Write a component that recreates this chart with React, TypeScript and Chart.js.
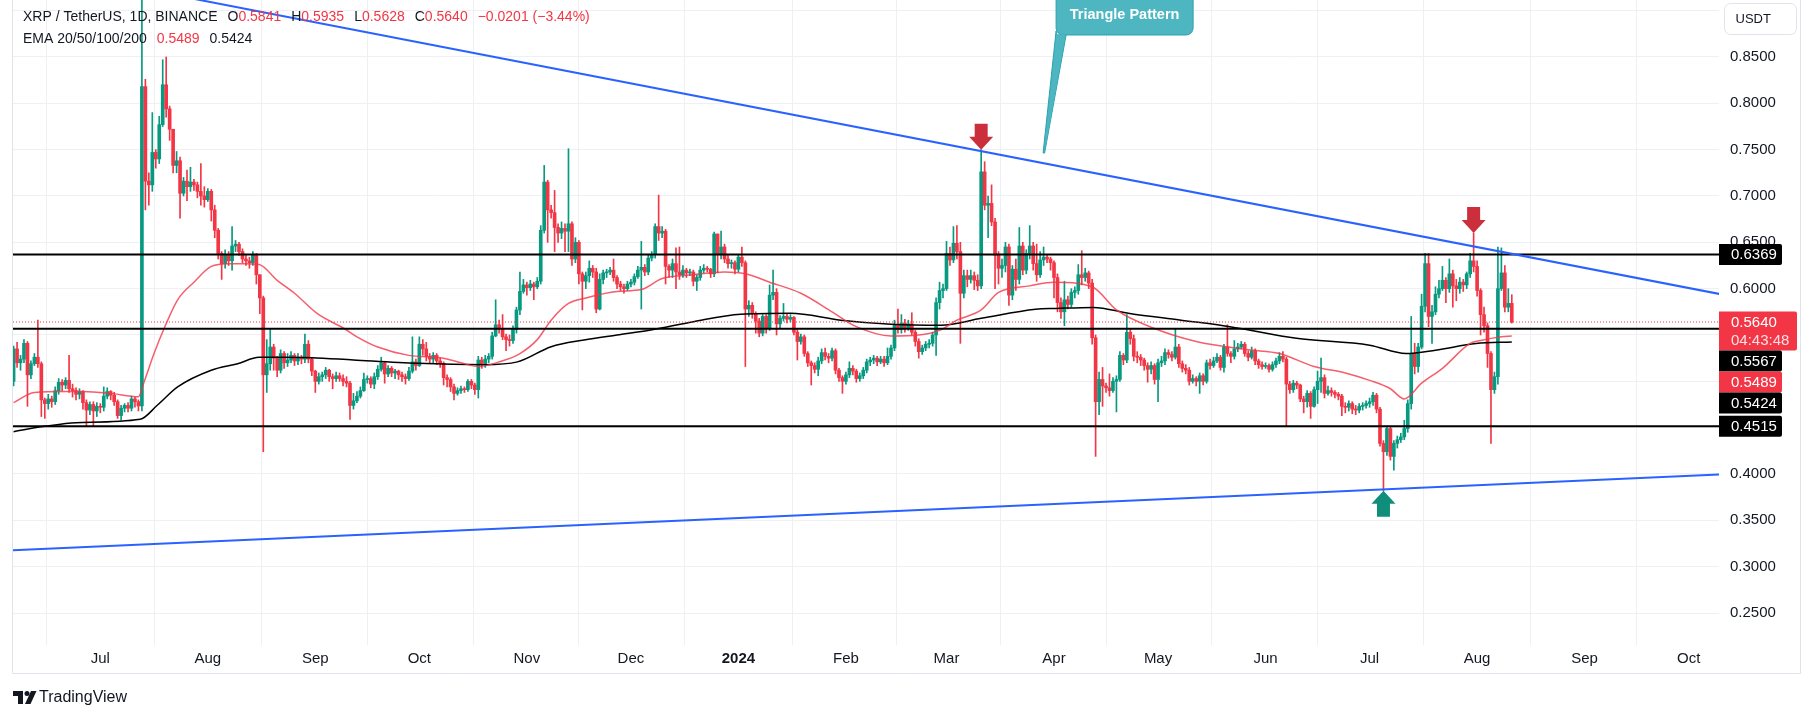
import React, { useEffect, useRef } from "react";
import { Chart, registerables } from "chart.js";

Chart.register(...registerables);

type Candle = [number, number, number]; // [close, high, low]; open = previous close

const FONT = "'Liberation Sans', Arial, sans-serif";
const UP = "#089981";
const DOWN = "#F23645";
const TEXT = "#131722";

const firstDay = -25; // days from 2023-07-01
const firstOpen = 0.5;

const jun2023: Candle[] = [
  [0.535,0.538,0.495],[0.520,0.542,0.515],[0.524,0.528,0.512],[0.541,0.545,0.520],[0.507,0.543,0.473],
  [0.519,0.522,0.503],[0.526,0.530,0.517],[0.519,0.566,0.515],[0.480,0.521,0.462],[0.476,0.482,0.460],
  [0.481,0.486,0.470],[0.478,0.484,0.472],[0.490,0.494,0.475],[0.499,0.503,0.486],[0.496,0.502,0.490],
  [0.501,0.504,0.492],[0.492,0.528,0.488],[0.490,0.497,0.483],[0.486,0.493,0.480],[0.489,0.492,0.481],
  [0.477,0.490,0.470],[0.469,0.480,0.452],[0.475,0.478,0.464],[0.468,0.478,0.452],[0.473,0.477,0.462],
];
const jul2023: Candle[] = [
  [0.472,0.476,0.466],[0.484,0.494,0.468],[0.489,0.493,0.481],[0.485,0.490,0.480],[0.478,0.488,0.474],
  [0.463,0.480,0.460],[0.471,0.474,0.458],[0.474,0.476,0.467],[0.471,0.477,0.467],[0.481,0.484,0.468],
  [0.478,0.483,0.472],[0.4735,0.480,0.468],[0.818,0.938,0.468],[0.716,0.826,0.685],[0.712,0.725,0.690],
  [0.747,0.790,0.705],[0.740,0.750,0.730],[0.777,0.786,0.735],[0.820,0.847,0.775],[0.794,0.850,0.785],
  [0.772,0.797,0.760],[0.733,0.772,0.725],[0.738,0.748,0.725],[0.703,0.742,0.676],[0.716,0.720,0.700],
  [0.710,0.728,0.695],[0.715,0.731,0.705],[0.712,0.718,0.706],[0.705,0.715,0.698],[0.700,0.735,0.690],
  [0.696,0.710,0.688],
];
const aug2023: Candle[] = [
  [0.705,0.708,0.694],[0.685,0.707,0.673],[0.663,0.690,0.655],[0.638,0.665,0.632],[0.627,0.640,0.610],
  [0.637,0.642,0.622],[0.630,0.640,0.625],[0.646,0.667,0.620],[0.648,0.652,0.640],[0.640,0.650,0.636],
  [0.632,0.643,0.628],[0.630,0.636,0.625],[0.628,0.634,0.622],[0.636,0.640,0.625],[0.615,0.638,0.605],
  [0.590,0.615,0.573],[0.507,0.592,0.424],[0.519,0.545,0.488],[0.537,0.557,0.512],[0.525,0.540,0.512],
  [0.512,0.527,0.505],[0.530,0.534,0.509],[0.520,0.532,0.514],[0.523,0.530,0.516],[0.528,0.532,0.520],
  [0.522,0.530,0.517],[0.526,0.530,0.518],[0.524,0.528,0.519],[0.540,0.551,0.520],[0.524,0.544,0.520],
  [0.511,0.526,0.506],
];
const sep2023: Candle[] = [
  [0.500,0.512,0.488],[0.505,0.509,0.497],[0.507,0.510,0.500],[0.512,0.515,0.503],[0.505,0.513,0.500],
  [0.503,0.508,0.492],[0.506,0.510,0.500],[0.503,0.509,0.500],[0.500,0.507,0.495],[0.498,0.505,0.494],
  [0.474,0.500,0.459],[0.479,0.487,0.470],[0.484,0.489,0.477],[0.490,0.494,0.482],[0.502,0.509,0.489],
  [0.503,0.506,0.498],[0.497,0.505,0.493],[0.505,0.509,0.492],[0.513,0.517,0.502],[0.520,0.526,0.511],
  [0.508,0.521,0.498],[0.514,0.517,0.505],[0.509,0.516,0.505],[0.511,0.513,0.503],[0.507,0.512,0.502],
  [0.505,0.510,0.500],[0.503,0.508,0.497],[0.511,0.515,0.501],[0.521,0.548,0.509],[0.517,0.524,0.512],
];
const oct2023: Candle[] = [
  [0.540,0.548,0.516],[0.535,0.545,0.528],[0.527,0.542,0.522],[0.524,0.530,0.519],[0.528,0.531,0.520],
  [0.522,0.530,0.518],[0.519,0.525,0.515],[0.504,0.521,0.496],[0.502,0.507,0.494],[0.494,0.504,0.489],
  [0.487,0.497,0.480],[0.490,0.493,0.485],[0.492,0.495,0.487],[0.491,0.494,0.488],[0.500,0.502,0.489],
  [0.496,0.502,0.492],[0.491,0.498,0.486],[0.523,0.527,0.482],[0.519,0.526,0.514],[0.524,0.528,0.515],
  [0.527,0.530,0.520],[0.549,0.553,0.524],[0.561,0.588,0.548],[0.557,0.566,0.552],[0.548,0.572,0.545],
  [0.545,0.551,0.533],[0.544,0.550,0.538],[0.556,0.560,0.541],[0.577,0.580,0.552],[0.597,0.618,0.572],
  [0.604,0.610,0.595],
];
const nov2023: Candle[] = [
  [0.601,0.607,0.593],[0.605,0.609,0.598],[0.602,0.607,0.588],[0.608,0.612,0.600],[0.663,0.668,0.605],
  [0.715,0.733,0.660],[0.685,0.717,0.650],[0.682,0.690,0.676],[0.666,0.706,0.640],[0.660,0.670,0.650],
  [0.665,0.672,0.654],[0.662,0.670,0.640],[0.670,0.751,0.640],[0.632,0.672,0.625],[0.650,0.655,0.628],
  [0.616,0.652,0.605],[0.608,0.618,0.577],[0.614,0.618,0.600],[0.622,0.630,0.607],[0.618,0.625,0.612],
  [0.578,0.622,0.574],[0.610,0.616,0.577],[0.617,0.620,0.605],[0.618,0.621,0.612],[0.620,0.623,0.615],
  [0.612,0.632,0.608],[0.605,0.614,0.600],[0.602,0.608,0.598],[0.600,0.605,0.595],[0.605,0.608,0.598],
];
const dec2023: Candle[] = [
  [0.607,0.610,0.602],[0.613,0.616,0.604],[0.620,0.624,0.611],[0.623,0.651,0.578],[0.618,0.626,0.614],
  [0.633,0.637,0.615],[0.637,0.640,0.630],[0.667,0.670,0.633],[0.660,0.701,0.652],[0.662,0.667,0.655],
  [0.624,0.664,0.605],[0.620,0.626,0.612],[0.627,0.632,0.612],[0.618,0.644,0.600],[0.615,0.645,0.610],
  [0.620,0.625,0.612],[0.617,0.622,0.612],[0.618,0.621,0.614],[0.608,0.620,0.603],[0.612,0.615,0.598],
  [0.620,0.624,0.609],[0.622,0.626,0.617],[0.621,0.624,0.618],[0.616,0.622,0.612],[0.659,0.661,0.613],
  [0.637,0.658,0.617],[0.645,0.662,0.632],[0.632,0.648,0.628],[0.627,0.636,0.622],[0.628,0.631,0.622],
  [0.621,0.630,0.616],
];
const jan2024: Candle[] = [
  [0.634,0.637,0.618],[0.628,0.645,0.624],[0.578,0.630,0.516],[0.582,0.587,0.570],[0.573,0.585,0.568],
  [0.565,0.575,0.552],[0.552,0.568,0.548],[0.570,0.572,0.549],[0.557,0.572,0.552],[0.593,0.604,0.555],
  [0.596,0.620,0.588],[0.562,0.600,0.550],[0.568,0.571,0.558],[0.570,0.584,0.565],[0.567,0.573,0.563],
  [0.569,0.572,0.564],[0.553,0.570,0.550],[0.543,0.556,0.523],[0.548,0.551,0.540],[0.530,0.550,0.527],
  [0.520,0.532,0.516],[0.517,0.522,0.496],[0.513,0.520,0.509],[0.522,0.526,0.506],[0.531,0.535,0.519],
  [0.527,0.536,0.523],[0.525,0.530,0.520],[0.533,0.536,0.522],[0.512,0.535,0.508],[0.504,0.514,0.500],
  [0.500,0.506,0.487],
];
const feb2024: Candle[] = [
  [0.507,0.510,0.497],[0.514,0.521,0.504],[0.511,0.517,0.507],[0.503,0.513,0.499],[0.506,0.509,0.500],
  [0.512,0.515,0.503],[0.521,0.524,0.509],[0.523,0.526,0.517],[0.525,0.528,0.519],[0.521,0.527,0.517],
  [0.524,0.527,0.519],[0.520,0.527,0.516],[0.527,0.536,0.518],[0.536,0.539,0.524],[0.561,0.566,0.533],
  [0.556,0.578,0.552],[0.563,0.572,0.552],[0.558,0.567,0.553],[0.562,0.566,0.555],[0.553,0.574,0.550],
  [0.543,0.555,0.538],[0.532,0.546,0.525],[0.536,0.539,0.529],[0.540,0.543,0.533],[0.541,0.545,0.536],
  [0.550,0.553,0.538],[0.585,0.590,0.528],[0.598,0.607,0.578],[0.600,0.605,0.590],
];
const mar2024: Candle[] = [
  [0.638,0.651,0.598],[0.631,0.645,0.625],[0.649,0.667,0.628],[0.640,0.668,0.632],[0.595,0.650,0.541],
  [0.614,0.620,0.590],[0.610,0.620,0.602],[0.614,0.620,0.606],[0.609,0.618,0.599],[0.603,0.615,0.598],
  [0.726,0.750,0.600],[0.690,0.737,0.685],[0.692,0.700,0.655],[0.672,0.712,0.668],[0.636,0.676,0.600],
  [0.622,0.640,0.605],[0.625,0.632,0.612],[0.645,0.650,0.618],[0.593,0.648,0.582],[0.621,0.625,0.588],
  [0.610,0.632,0.598],[0.646,0.666,0.605],[0.620,0.650,0.615],[0.638,0.642,0.616],[0.646,0.668,0.632],
  [0.627,0.650,0.620],[0.615,0.648,0.608],[0.631,0.640,0.612],[0.634,0.645,0.625],[0.632,0.637,0.628],
  [0.628,0.634,0.620],
];
const apr2024: Candle[] = [
  [0.612,0.630,0.590],[0.585,0.616,0.575],[0.575,0.590,0.568],[0.588,0.608,0.560],[0.583,0.592,0.578],
  [0.596,0.600,0.580],[0.598,0.602,0.590],[0.615,0.626,0.594],[0.612,0.641,0.604],[0.617,0.622,0.608],
  [0.606,0.619,0.600],[0.547,0.610,0.540],[0.478,0.550,0.419],[0.502,0.510,0.464],[0.495,0.515,0.473],
  [0.493,0.498,0.488],[0.490,0.508,0.484],[0.500,0.504,0.488],[0.502,0.506,0.467],[0.528,0.532,0.500],
  [0.523,0.530,0.518],[0.553,0.572,0.520],[0.546,0.556,0.540],[0.527,0.550,0.522],[0.526,0.532,0.520],
  [0.523,0.529,0.517],[0.517,0.525,0.512],[0.513,0.520,0.499],[0.517,0.521,0.508],[0.502,0.519,0.497],
];
const may2024: Candle[] = [
  [0.520,0.524,0.478],[0.522,0.527,0.516],[0.531,0.535,0.518],[0.529,0.534,0.525],[0.526,0.532,0.522],
  [0.537,0.557,0.524],[0.519,0.540,0.515],[0.514,0.522,0.510],[0.512,0.518,0.508],[0.500,0.515,0.496],
  [0.503,0.507,0.498],[0.500,0.505,0.495],[0.506,0.509,0.487],[0.500,0.508,0.496],[0.520,0.523,0.498],
  [0.517,0.524,0.513],[0.522,0.526,0.515],[0.526,0.530,0.520],[0.515,0.528,0.512],[0.537,0.540,0.510],
  [0.530,0.561,0.527],[0.527,0.532,0.520],[0.535,0.544,0.524],[0.537,0.541,0.532],[0.540,0.543,0.535],
  [0.530,0.542,0.527],[0.526,0.533,0.522],[0.533,0.537,0.524],[0.522,0.535,0.518],[0.518,0.524,0.514],
  [0.516,0.521,0.513],
];
const jun2024: Candle[] = [
  [0.517,0.520,0.514],[0.513,0.519,0.510],[0.518,0.521,0.511],[0.522,0.525,0.515],[0.527,0.531,0.519],
  [0.524,0.532,0.521],[0.497,0.526,0.451],[0.491,0.500,0.487],[0.498,0.501,0.488],[0.496,0.500,0.492],
  [0.481,0.497,0.478],[0.478,0.484,0.466],[0.487,0.490,0.472],[0.473,0.489,0.460],[0.491,0.494,0.472],
  [0.500,0.511,0.476],[0.504,0.525,0.488],[0.487,0.507,0.482],[0.490,0.495,0.485],[0.488,0.493,0.484],
  [0.486,0.490,0.482],[0.484,0.488,0.480],[0.473,0.486,0.463],[0.472,0.477,0.466],[0.476,0.479,0.468],
  [0.470,0.478,0.465],[0.469,0.474,0.464],[0.473,0.476,0.466],[0.474,0.477,0.469],[0.476,0.479,0.471],
];
const jul2024: Candle[] = [
  [0.478,0.482,0.472],[0.485,0.488,0.474],[0.470,0.487,0.466],[0.433,0.472,0.430],[0.424,0.436,0.382],
  [0.449,0.452,0.420],[0.419,0.451,0.415],[0.433,0.436,0.404],[0.437,0.441,0.428],[0.440,0.444,0.434],
  [0.449,0.458,0.437],[0.476,0.480,0.445],[0.530,0.570,0.470],[0.516,0.541,0.508],[0.537,0.541,0.510],
  [0.581,0.594,0.535],[0.627,0.638,0.575],[0.570,0.638,0.559],[0.575,0.582,0.541],[0.594,0.602,0.572],
  [0.600,0.609,0.590],[0.609,0.624,0.598],[0.600,0.612,0.585],[0.616,0.632,0.596],[0.603,0.620,0.580],
  [0.600,0.610,0.587],[0.607,0.612,0.595],[0.604,0.610,0.597],[0.616,0.618,0.600],[0.630,0.638,0.612],
  [0.624,0.660,0.618],
];
const aug2024: Candle[] = [
  [0.598,0.630,0.592],[0.572,0.600,0.550],[0.560,0.580,0.553],[0.530,0.563,0.515],[0.491,0.532,0.433],
  [0.505,0.510,0.487],[0.600,0.645,0.497],[0.617,0.644,0.598],[0.580,0.625,0.575],[0.5841,0.600,0.575],
  [0.5640,0.5935,0.5628],
];

const candleMonths: Candle[][] = [
  jun2023, jul2023, aug2023, sep2023, oct2023, nov2023, dec2023,
  jan2024, feb2024, mar2024, apr2024, may2024, jun2024, jul2024, aug2024,
];

// EMA lines: [day, value]
const emaRed: [number, number][] = [
  [-25,0.477],[-19,0.488],[-10,0.489],[-5,0.489],[3,0.487],[11,0.4834],[12.5,0.498],[15.5,0.530],[18.4,0.557],[22.3,0.588],
  [27,0.607],[32,0.624],[37,0.627],[41.5,0.627],[45.8,0.626],[51,0.609],[56,0.595],[62.6,0.573],[70.3,0.557],[74,0.548],
  [80,0.537],[89,0.528],[99,0.525],[104,0.520],[109,0.516],[115,0.521],[121,0.530],[126,0.545],[130,0.566],[135,0.584],
  [140,0.590],[149,0.597],[156,0.599],[162,0.611],[171,0.615],[180,0.618],[186,0.616],[193,0.607],[202,0.595],[211,0.575],
  [218,0.559],[228,0.549],[236,0.550],[242,0.555],[247,0.566],[254,0.577],[259,0.596],[268,0.603],[275,0.607],[286,0.602],
  [293,0.577],[304,0.557],[316,0.543],[331,0.534],[340,0.530],[350,0.516],[359,0.509],[366,0.501],[372,0.492],[376,0.481],
  [381,0.498],[387,0.514],[395,0.541],[398,0.544],[404,0.548],[407,0.549],
];
const emaBlack: [number, number][] = [
  [-25,0.4457],[-16,0.4514],[-7,0.4554],[11.5,0.459],[16.5,0.4744],[22.3,0.494],[32,0.512],[39.6,0.519],[45.8,0.5259],[51,0.526],
  [61,0.5255],[73,0.523],[91.5,0.5194],[110.7,0.518],[120.3,0.521],[130,0.5374],[139.5,0.5446],[149,0.550],[158.7,0.5554],[171,0.5644],
  [184.7,0.5723],[199,0.5734],[213.5,0.566],[228,0.5616],[242.4,0.5605],[254,0.568],[269.7,0.5778],[275.7,0.5787],[286.3,0.5798],[296.8,0.5733],
  [311.2,0.5662],[325.7,0.559],[344.9,0.5464],[366,0.539],[376.5,0.530],[385,0.5336],[396.7,0.5408],[407,0.5424],
];

const monthTickDays = [0, 31, 62, 92, 123, 153, 184, 215, 244, 275, 305, 336, 366, 397, 428, 458];
const monthTickLabels = ["Jul","Aug","Sep","Oct","Nov","Dec","2024","Feb","Mar","Apr","May","Jun","Jul","Aug","Sep","Oct"];
const yearTickLabels = ["2024"];
const priceTicks = [0.25,0.30,0.35,0.40,0.45,0.50,0.55,0.60,0.65,0.70,0.75,0.80,0.85,0.90];

const levelPrices = [0.6369, 0.5567, 0.4515];
const lastPrice = 0.564;
const upperTrendDays = [-26, 470];
const upperTrendPrices = [0.9511, 0.592];
const lowerTrendDays = [-26, 470];
const lowerTrendPrices = [0.3177, 0.3999];

const axisLabelValues = [0.6369, 0.564, 0.5567, 0.5489, 0.5424, 0.4515];
const axisLabelColors = ["#000000", DOWN, "#000000", DOWN, "#000000", "#000000"];
const axisLabelSubtexts = ["", "04:43:48", "", "", "", ""];

const headerSymbol = "XRP / TetherUS, 1D, BINANCE";
const headerKeys = ["O", "H", "L", "C"];
const headerValues = ["0.5841", "0.5935", "0.5628", "0.5640"];
const headerChange = "\u22120.0201 (\u22123.44%)";
const emaLegend = "EMA 20/50/100/200";
const emaLegendValues = ["0.5489", "0.5424"];

const arrowDays = [254, 396, 370];
const arrowPrices = [0.75, 0.66, 0.382];
const arrowDirections = ["down", "down", "up"];

const calloutText = "Triangle Pattern";
const calloutDay = 272;
const calloutPrice = 0.7464;

const xMin = -25.17;
const xMax = 466.75;
const yMin = 0.21547;
const yMax = 0.91149;

const overlayPlugin = {
  id: "overlay",
  afterDraw(chart: any) {
    const { ctx, chartArea: area, scales } = chart;
    const xs = scales.x;
    const ys = scales.y;
    ctx.save();

    // pane frame
    ctx.strokeStyle = "#e0e3eb";
    ctx.lineWidth = 1;
    ctx.beginPath();
    ctx.moveTo(area.left - 0.5, 0);
    ctx.lineTo(area.left - 0.5, area.bottom + 28.5);
    ctx.lineTo(area.right + 81.5, area.bottom + 28.5);
    ctx.lineTo(area.right + 81.5, 0);
    ctx.stroke();

    // arrows
    arrowDays.forEach((d, i) => {
      const px = xs.getPixelForValue(d);
      const py = ys.getPixelForValue(arrowPrices[i]);
      const dir = arrowDirections[i] === "down" ? -1 : 1;
      ctx.fillStyle = dir < 0 ? "#cc2f3c" : "#0f8f7b";
      ctx.beginPath();
      ctx.moveTo(px, py);
      ctx.lineTo(px - 12, py + dir * 13);
      ctx.lineTo(px - 6.5, py + dir * 13);
      ctx.lineTo(px - 6.5, py + dir * 26);
      ctx.lineTo(px + 6.5, py + dir * 26);
      ctx.lineTo(px + 6.5, py + dir * 13);
      ctx.lineTo(px + 12, py + dir * 13);
      ctx.closePath();
      ctx.fill();
    });

    // callout
    {
      const px = xs.getPixelForValue(calloutDay);
      const py = ys.getPixelForValue(calloutPrice);
      const left = px + 12.5;
      const right = px + 149.5;
      const bottom = py - 118;
      const top = -8;
      ctx.fillStyle = "#4db6c1";
      ctx.strokeStyle = "#2aa1af";
      ctx.lineWidth = 1;
      ctx.beginPath();
      ctx.moveTo(left, bottom - 4);
      ctx.lineTo(left + 0.5, bottom);
      ctx.lineTo(left + 10, bottom);
      ctx.lineTo(px + 1, py);
      ctx.lineTo(px - 0.5, py);
      ctx.closePath();
      ctx.fill();
      ctx.stroke();
      ctx.beginPath();
      (ctx as any).roundRect(left, top, right - left, bottom - top, 7);
      ctx.fill();
      ctx.stroke();
      ctx.beginPath();
      ctx.moveTo(left + 1, bottom - 6);
      ctx.lineTo(left + 1, bottom - 0.5);
      ctx.lineTo(left + 9.5, bottom - 0.5);
      ctx.lineTo(px + 1.5, py - 3);
      ctx.closePath();
      ctx.fill();
      ctx.fillStyle = "#ffffff";
      ctx.font = `bold 14.5px ${FONT}`;
      ctx.textAlign = "center";
      ctx.textBaseline = "middle";
      ctx.fillText(calloutText, (left + right) / 2, 14.5);
    }

    // header legend
    ctx.textAlign = "left";
    ctx.textBaseline = "middle";
    ctx.font = `14px ${FONT}`;
    const seg = (t: string, c: string, x: number, y: number) => {
      ctx.fillStyle = c;
      ctx.fillText(t, x, y);
      return x + ctx.measureText(t).width;
    };
    let hx = 23;
    hx = seg(headerSymbol, TEXT, hx, 17.5) + 10;
    headerKeys.forEach((k, i) => {
      hx = seg(k, TEXT, hx, 17.5);
      hx = seg(headerValues[i], DOWN, hx, 17.5) + 10;
    });
    seg(headerChange, DOWN, hx, 17.5);
    let ex = seg(emaLegend, TEXT, 23, 39.5) + 10;
    ex = seg(emaLegendValues[0], DOWN, ex, 39.5) + 10;
    seg(emaLegendValues[1], TEXT, ex, 39.5);

    // price axis labels
    ctx.font = `15px ${FONT}`;
    let prevBottom = -Infinity;
    axisLabelValues.forEach((v, i) => {
      const cy = ys.getPixelForValue(v);
      const sub = axisLabelSubtexts[i];
      const h = sub ? 39 : 21;
      const w = sub ? 78 : 63;
      const top = Math.max(cy - 10.5, prevBottom);
      ctx.fillStyle = axisLabelColors[i];
      ctx.beginPath();
      (ctx as any).roundRect(area.right, top, w, h, [0, 2, 2, 0]);
      ctx.fill();
      ctx.fillStyle = "#ffffff";
      ctx.fillText(v.toFixed(4), area.right + 12, top + 11);
      if (sub) {
        ctx.fillStyle = "#fde0e3";
        ctx.fillText(sub, area.right + 12, top + 29);
      }
      prevBottom = top + h;
    });

    // currency button
    ctx.fillStyle = "#ffffff";
    ctx.strokeStyle = "#e0e3eb";
    ctx.beginPath();
    (ctx as any).roundRect(area.right + 5.5, 3.5, 72, 31, 6);
    ctx.fill();
    ctx.stroke();
    ctx.fillStyle = TEXT;
    ctx.font = `13px ${FONT}`;
    ctx.fillText("USDT", area.right + 16.5, 19);

    // TradingView logo
    const ly = area.bottom + 52;
    ctx.fillStyle = TEXT;
    ctx.fillRect(13, ly - 6, 10, 5);
    ctx.fillRect(18, ly - 6, 5, 13);
    ctx.beginPath();
    ctx.arc(27, ly - 3.5, 2.5, 0, Math.PI * 2);
    ctx.fill();
    ctx.beginPath();
    ctx.moveTo(31, ly - 6);
    ctx.lineTo(36.5, ly - 6);
    ctx.lineTo(30.5, ly + 7);
    ctx.lineTo(25, ly + 7);
    ctx.closePath();
    ctx.fill();
    ctx.font = `16px ${FONT}`;
    ctx.fillText("TradingView", 39, ly + 0.5);

    ctx.restore();
  },
};

export default function App() {
  const canvasRef = useRef<HTMLCanvasElement | null>(null);

  useEffect(() => {
    const canvas = canvasRef.current;
    if (!canvas) return;

    const candles = candleMonths.flat();
    let prev = firstOpen;
    const bodies: any[] = [];
    const wicks: any[] = [];
    const colors: string[] = [];
    candles.forEach(([c, h, l], i) => {
      const o = prev;
      prev = c;
      const d = firstDay + i;
      bodies.push({ x: d, y: [o, c] });
      wicks.push({ x: d, y: [Math.min(l, o, c), Math.max(h, o, c)] });
      colors.push(c >= o ? UP : DOWN);
    });

    const lineDs = (data: any[], color: string, width: number, order: number, extra: any = {}) => ({
      type: "line",
      data,
      borderColor: color,
      borderWidth: width,
      pointRadius: 0,
      fill: false,
      order,
      ...extra,
    });

    const datasets: any[] = [
      {
        type: "bar",
        data: wicks,
        backgroundColor: colors,
        barThickness: 1,
        grouped: false,
        borderWidth: 0,
        order: 10,
      },
      {
        type: "bar",
        data: bodies,
        backgroundColor: colors,
        barThickness: 3,
        minBarLength: 1,
        grouped: false,
        borderWidth: 0,
        order: 9,
      },
      lineDs(emaBlack.map(([x, y]) => ({ x, y })), "#000000", 1.5, 6, { cubicInterpolationMode: "monotone" }),
      lineDs(emaRed.map(([x, y]) => ({ x, y })), "rgba(242,54,69,0.8)", 1.5, 5, { cubicInterpolationMode: "monotone" }),
      lineDs([{ x: xMin, y: lastPrice }, { x: xMax, y: lastPrice }], DOWN, 1, 4, { borderDash: [1, 2] }),
      ...levelPrices.map((p) => lineDs([{ x: xMin, y: p }, { x: xMax, y: p }], "#000000", 2, 3)),
      lineDs(upperTrendDays.map((x, i) => ({ x, y: upperTrendPrices[i] })), "#2962ff", 2, 2),
      lineDs(lowerTrendDays.map((x, i) => ({ x, y: lowerTrendPrices[i] })), "#2962ff", 2, 2),
    ];

    const chart = new Chart(canvas, {
      type: "bar",
      data: { datasets },
      options: {
        responsive: false,
        animation: false,
        events: [],
        layout: { padding: { left: 13, right: 0, top: 0, bottom: 46 }, autoPadding: false },
        plugins: { legend: { display: false }, tooltip: { enabled: false } },
        scales: {
          x: {
            type: "linear",
            min: xMin,
            max: xMax,
            offset: false,
            afterFit: (s: any) => { s.height = 28; s.paddingLeft = 0; s.paddingRight = 0; },
            afterBuildTicks: (s: any) => { s.ticks = monthTickDays.map((value) => ({ value })); },
            grid: { color: "#eef0f3", drawTicks: false },
            border: { display: false },
            ticks: {
              autoSkip: false,
              maxRotation: 0,
              padding: 5,
              color: TEXT,
              font: (c: any) => {
                const idx = c.index ?? 0;
                const bold = yearTickLabels.includes(monthTickLabels[idx]);
                return { family: FONT, size: 15, weight: bold ? "bold" : "normal" };
              },
              callback: (_v: any, i: number) => monthTickLabels[i],
            },
          },
          y: {
            type: "linear",
            position: "right",
            min: yMin,
            max: yMax,
            afterFit: (s: any) => { s.width = 95; s.paddingTop = 0; s.paddingBottom = 0; },
            afterBuildTicks: (s: any) => { s.ticks = priceTicks.map((value) => ({ value })); },
            grid: { color: "#eef0f3", drawTicks: false },
            border: { display: false },
            ticks: {
              padding: 11,
              color: TEXT,
              font: { family: FONT, size: 15 },
              callback: (v: any) => Number(v).toFixed(4),
            },
          },
        },
      } as any,
      plugins: [overlayPlugin],
    } as any);

    return () => chart.destroy();
  }, []);

  return (
    <div style={{ position: "absolute", left: 0, top: 0, width: 1814, height: 719, background: "#ffffff" }}>
      <canvas ref={canvasRef} width={1814} height={719} style={{ display: "block", width: 1814, height: 719 }} />
    </div>
  );
}
